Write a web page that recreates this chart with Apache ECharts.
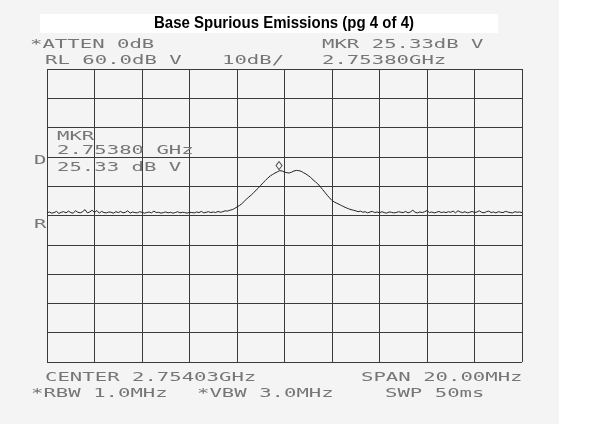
<!DOCTYPE html>
<html>
<head>
<meta charset="utf-8">
<script src="https://cdn.jsdelivr.net/npm/echarts@6/dist/echarts.min.js"></script>
<style>
  html, body { margin: 0; padding: 0; background: #fff; }
  #spectrum { width: 600px; height: 424px; }
</style>
</head>
<body>
<div id="spectrum"></div>
<script>
// analyzer settings (from the screen annotations)
var centerGHz = 2.75403;
var spanMHz = 20;
var refLevel = 60;     // dBuV, top of screen
var dbPerDiv = 10;
var markerOffsetMHz = -0.23;   // 2.75380 GHz - center
var markerLevel = 25.33;

// trace, dBuV, one value every 0.1 MHz from -10 to +10 MHz
var traceLevels = [
    10.9, 11.2, 10.8, 11.0, 11.4, 10.7, 11.1, 11.3, 10.9, 11.5,
    11.0, 10.8, 11.6, 11.1, 10.9, 11.3, 12.0, 10.9, 11.2, 11.8,
    11.0, 11.7, 10.8, 11.4, 11.0, 10.9, 11.2, 11.1, 10.8, 11.3,
    11.0, 11.4, 10.9, 11.1, 11.6, 10.8, 11.2, 11.0, 10.9, 11.3,
    11.1, 10.8, 11.0, 11.2, 10.9, 11.5, 11.0, 11.1, 10.8, 11.0,
    11.2, 10.9, 11.1, 10.8, 11.0, 11.3, 10.9, 11.1, 11.0, 10.8,
    11.1, 11.0, 10.9, 11.2, 11.0, 11.4, 10.9, 11.1, 11.3, 11.0,
    11.2, 11.0, 11.4, 11.1, 11.3, 11.6, 11.5, 11.8, 12.0, 12.4,
    12.9, 13.4, 14.0, 14.8, 15.6, 16.3, 17.0, 17.8, 18.6, 19.4,
    20.3, 21.2, 22.0, 22.8, 23.5, 24.0, 24.5, 24.9, 25.3, 25.2,
    24.8, 24.6, 24.5, 24.8, 25.2, 25.4, 25.3, 25.1, 24.6, 24.2,
    23.6, 23.0, 22.2, 21.5, 20.8, 19.9, 18.9, 17.9, 16.9, 16.0,
    15.1, 14.6, 14.2, 13.8, 13.4, 13.0, 12.6, 12.3, 12.0, 11.8,
    11.6, 11.3, 11.5, 11.1, 11.3, 10.9, 11.2, 11.4, 11.0, 11.2,
    10.9, 11.3, 11.0, 10.8, 11.2, 11.1, 10.9, 11.0, 11.3, 11.1,
    11.0, 11.4, 10.9, 11.2, 11.8, 11.1, 10.9, 11.2, 11.0, 11.3,
    11.7, 11.0, 11.2, 10.9, 11.1, 11.4, 11.0, 11.2, 11.0, 11.3,
    11.1, 11.5, 10.9, 11.6, 11.2, 11.0, 11.3, 10.9, 11.1, 11.4,
    11.0, 11.2, 11.6, 11.1, 10.9, 11.3, 11.5, 11.0, 11.2, 10.9,
    11.3, 11.1, 11.0, 11.4, 11.2, 11.0, 10.9, 11.3, 11.1, 11.2,
    11.0
];

// screen annotations
var headerLeft = ['*ATTEN 0dB', 'RL 60.0dB V'];
var headerMid = '10dB/';
var headerRight = ['MKR 25.33dB V', '2.75380GHz'];
var markerBox = ['MKR', '2.75380 GHz', '25.33 dB V'];
var footerLeft = ['CENTER 2.75403GHz', '*RBW 1.0MHz'];
var footerMid = '*VBW 3.0MHz';
var footerRight = ['SPAN 20.00MHz', 'SWP 50ms'];
var titleText = 'Base Spurious Emissions (pg 4 of 4)';

var chart = echarts.init(document.getElementById('spectrum'));

// sweep points: 0.1 MHz apart across the span
var trace = [];
for (var i = 0; i < traceLevels.length; i++) {
    trace.push([-spanMHz / 2 + i * 0.1, traceLevels[i]]);
}

var ink = '#767676';
function plotText(txt, x, y) {
    return {
        type: 'text', x: x, y: y, scaleX: 1.72, z: 10,
        style: { text: txt, fill: ink, font: '12px "DejaVu Sans Mono"', textVerticalAlign: 'middle' }
    };
}

var option = {
    backgroundColor: '#ffffff',
    animation: false,
    grid: { left: 47, right: 78, top: 69, bottom: 62, show: false },
    xAxis: {
        type: 'value',
        min: -spanMHz / 2, max: spanMHz / 2, interval: 2,
        axisLine: { show: false },
        axisTick: { show: false },
        axisLabel: { show: false },
        splitLine: { show: true, lineStyle: { color: '#3a3a3a', width: 1 } }
    },
    yAxis: {
        type: 'value',
        min: refLevel - 10 * dbPerDiv, max: refLevel, interval: dbPerDiv,
        axisLine: { show: false },
        axisTick: { show: false },
        axisLabel: { show: false },
        splitLine: { show: true, lineStyle: { color: '#3a3a3a', width: 1 } }
    },
    series: [{
        type: 'line',
        data: trace,
        symbol: 'none',
        lineStyle: { color: '#222', width: 1 },
        z: 5
    }, {
        type: 'scatter',
        data: [[markerOffsetMHz, markerLevel]],
        symbol: 'diamond',
        symbolSize: [6, 8],
        symbolOffset: [0, -5],
        itemStyle: { color: 'rgba(0,0,0,0)', borderColor: '#222', borderWidth: 1 },
        z: 6
    }],
    graphic: [
        { type: 'rect', shape: { x: 0, y: 0, width: 559, height: 424 }, style: { fill: '#f4f4f4' }, z: -10, silent: true },
        { type: 'rect', shape: { x: 40, y: 14, width: 458, height: 19 }, style: { fill: '#ffffff' }, z: -9, silent: true },
        {
            type: 'text', x: 284, y: 23, z: 10, scaleY: 1.1,
            style: { text: titleText, fill: '#000', font: 'bold 15px "Liberation Sans", Arial', textAlign: 'center', textVerticalAlign: 'middle' }
        },
        plotText(headerLeft[0], 30, 45),
        plotText(headerLeft[1], 45, 61),
        plotText(headerMid, 222, 61),
        plotText(headerRight[0], 322, 45),
        plotText(headerRight[1], 322, 61),
        plotText(markerBox[0], 57, 137),
        plotText(markerBox[1], 57, 151),
        plotText(markerBox[2], 57, 168),
        plotText('D', 34, 161),
        plotText('R', 34, 225),
        plotText(footerLeft[0], 45, 378),
        plotText(footerRight[0], 361, 378),
        plotText(footerLeft[1], 31, 394),
        plotText(footerMid, 197, 394),
        plotText(footerRight[1], 385, 394)
    ]
};

chart.setOption(option);
</script>
</body>
</html>
